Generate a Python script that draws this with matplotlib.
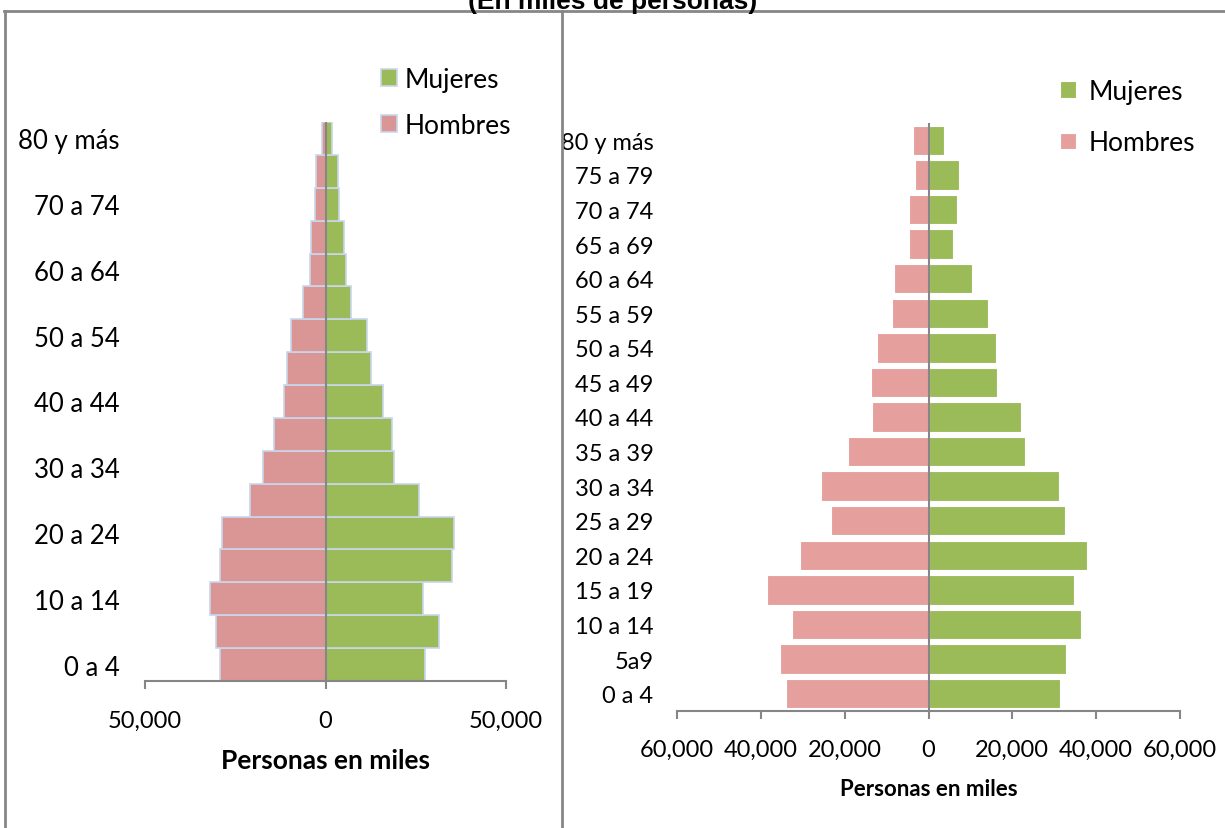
import numpy as np
import matplotlib.pyplot as plt
from matplotlib.ticker import FuncFormatter
from matplotlib.transforms import Bbox, TransformedBbox

# grupos de edad (de abajo hacia arriba)
grupos = ["0 a 4", "5 a 9", "10 a 14", "15 a 19", "20 a 24", "25 a 29", "30 a 34",
          "35 a 39", "40 a 44", "45 a 49", "50 a 54", "55 a 59", "60 a 64",
          "65 a 69", "70 a 74", "75 a 79", "80 y más"]
grupos_der = ["0 a 4", "5a9", "10 a 14", "15 a 19", "20 a 24", "25 a 29", "30 a 34",
              "35 a 39", "40 a 44", "45 a 49", "50 a 54", "55 a 59", "60 a 64",
              "65 a 69", "70 a 74", "75 a 79", "80 y más"]

# piramide izquierda (miles de personas)
hombres_izq = [29300, 30400, 32000, 29100, 28800, 21000, 17400, 14400, 11400,
               10600, 9600, 6300, 4300, 3900, 2800, 2500, 900]
mujeres_izq = [27700, 31500, 26900, 35000, 35700, 25800, 19100, 18300, 15900,
               12600, 11600, 7200, 5600, 5200, 3700, 3500, 1700]

# piramide derecha
hombres_der = [34100, 35400, 32500, 38500, 30600, 23300, 25600, 19100, 13400,
               13600, 12400, 8600, 8200, 4600, 4700, 3300, 3800]
mujeres_der = [31400, 32900, 36400, 34700, 37700, 32500, 31100, 23000, 22100,
               16400, 16100, 14300, 10400, 5800, 6800, 7200, 3700]

verde = "#9BBB59"
rosa = "#D99694"
rosa2 = "#E5A09E"
gris = "#868686"

plt.rcParams['font.family'] = ['Lato', 'DejaVu Sans']
fs = 17      # numeros del eje
fc = 18.5    # categorias
fl = 19      # leyenda

fig = plt.figure(figsize=(12.25, 8.29), dpi=100)
W, H = 1225, 829

def caja(x0, y0, x1, y1):
    return [x0 / W, 1 - y1 / H, (x1 - x0) / W, (y1 - y0) / H]

fmt = FuncFormatter(lambda v, p: "{:,.0f}".format(abs(v)))

# marcos
fig.add_artist(plt.Line2D([4 / W, 1], [1 - 12 / H] * 2, color=gris, lw=2))
fig.add_artist(plt.Line2D([5 / W] * 2, [0, 1 - 12 / H], color=gris, lw=2))
fig.add_artist(plt.Line2D([562 / W] * 2, [0, 1 - 12 / H], color=gris, lw=2))

fig.text(0.5, 1 - 9 / H, "(En miles de personas)", ha='center', va='baseline',
         fontsize=19, fontweight='bold', family='Liberation Sans')

y = np.arange(len(grupos))

# ---- izquierda
ax1 = fig.add_axes(caja(145, 123, 506, 682))
bm = ax1.barh(y, [-v for v in hombres_izq], height=1.0, color=rosa,
              edgecolor="#C9D6EC", linewidth=1.2, label="Hombres")
bw = ax1.barh(y, mujeres_izq, height=1.0, color=verde,
              edgecolor="#C9D6EC", linewidth=1.2, label="Mujeres")
ax1.axvline(0, color=gris, lw=1.5)
ax1.set_xlim(-50000, 50000)
ax1.set_ylim(-0.5, len(grupos) - 0.5)
ax1.set_xticks([-50000, 0, 50000])
ax1.xaxis.set_major_formatter(fmt)
ax1.set_yticks(y[::2])
ax1.set_yticklabels(grupos[::2])
ax1.tick_params(axis='y', length=0, pad=18, labelsize=fc)
ax1.tick_params(axis='x', direction='out', length=6, width=1.5, color=gris,
                pad=15, labelsize=fs)
for s in ['top', 'right', 'left']:
    ax1.spines[s].set_visible(False)
ax1.spines['bottom'].set_color(gris)
ax1.spines['bottom'].set_linewidth(1.5)
ax1.set_xlabel("Personas en miles", fontsize=19, fontweight='bold', labelpad=12)
fig.legend([bw, bm], ["Mujeres", "Hombres"], loc='upper left',
           bbox_to_anchor=(381 / W, 1 - 68 / H), frameon=False, fontsize=fl,
           borderpad=0, borderaxespad=0, handlelength=0.6, handleheight=0.6,
           handletextpad=0.3, labelspacing=0.78)

# ---- derecha
ax2 = fig.add_axes(caja(677, 124, 1180, 712))
bm2 = ax2.barh(y, [-v for v in hombres_der], height=0.85, color=rosa2,
               edgecolor="white", linewidth=0.8)
bw2 = ax2.barh(y, mujeres_der, height=0.85, color=verde,
               edgecolor="white", linewidth=0.8)
ax2.axvline(0, color=gris, lw=1.5)
ax2.set_xlim(-60000, 60000)
ax2.set_ylim(-0.5, len(grupos) - 0.5)
ax2.set_xticks(np.arange(-60000, 60001, 20000))
ax2.xaxis.set_major_formatter(fmt)
ax2.set_yticks(y)
ax2.set_yticklabels(grupos_der)
ax2.tick_params(axis='y', length=0, pad=17, labelsize=17)
ax2.tick_params(axis='x', direction='out', length=6, width=1.5, color=gris,
                pad=14, labelsize=fs)
for s in ['top', 'right', 'left']:
    ax2.spines[s].set_visible(False)
ax2.spines['bottom'].set_color(gris)
ax2.spines['bottom'].set_linewidth(1.5)
ax2.set_xlabel("Personas en miles", fontsize=16, fontweight='bold', labelpad=13)
clip = TransformedBbox(Bbox([[563 / W, 0], [1, 1]]), fig.transFigure)
for t in ax2.get_yticklabels():
    t.set_clip_box(clip)
    t.set_clip_on(True)
fig.legend([bw2, bm2], ["Mujeres", "Hombres"], loc='upper left',
           bbox_to_anchor=(1060 / W, 1 - 80 / H), frameon=False, fontsize=fl,
           borderpad=0, borderaxespad=0, handlelength=0.6, handleheight=0.6,
           handletextpad=0.5, labelspacing=1.0)

fig.savefig("out.png", dpi=100)
